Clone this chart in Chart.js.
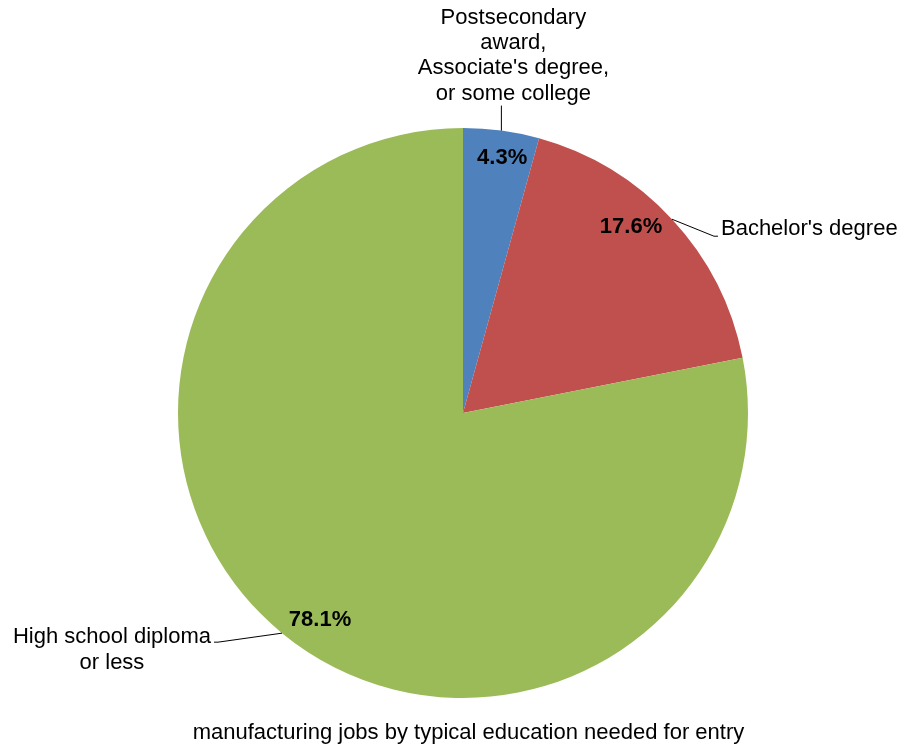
<!DOCTYPE html>
<html>
<head>
<meta charset="utf-8">
<script src="https://cdn.jsdelivr.net/npm/chart.js@4/dist/chart.umd.min.js"></script>
<style>
html,body{margin:0;padding:0;background:#fff;}
#wrap{width:901px;height:747px;position:relative;}
</style>
</head>
<body>
<div id="wrap"><canvas id="c" width="901" height="747"></canvas></div>
<script>
const categories = ["Postsecondary award, Associate's degree, or some college", "Bachelor's degree", "High school diploma or less"];
const categoryLines = [["Postsecondary", "award,", "Associate's degree,", "or some college"], ["Bachelor's degree"], ["High school diploma", "or less"]];
const values = [4.3, 17.6, 78.1];
const colors = ["#4F81BD", "#C0504D", "#9BBB59"];
const chartTitle = "manufacturing jobs by typical education needed for entry";

const FONT = "Liberation Sans, Arial, sans-serif";
const pctPlace = [{dA: 1.0, rf: 0.905}, {dA: -5.1, rf: 0.88}, {dA: -4.8, rf: 0.883}];

const labelPlugin = {
  id: 'labelPlugin',
  afterDatasetsDraw(chart) {
    const ctx = chart.ctx;
    const meta = chart.getDatasetMeta(0);
    ctx.save();
    meta.data.forEach((arc, i) => {
      const p = arc.getProps(['x','y','startAngle','endAngle','outerRadius'], true);
      const mid = (p.startAngle + p.endAngle) / 2;
      // percent label
      const a = mid + pctPlace[i].dA * Math.PI / 180;
      const r = p.outerRadius * pctPlace[i].rf;
      ctx.font = "bold 22px " + FONT;
      ctx.fillStyle = "#000";
      ctx.textAlign = "center";
      ctx.textBaseline = "middle";
      ctx.fillText(values[i].toFixed(1) + "%", p.x + Math.cos(a) * r, p.y + Math.sin(a) * r);

      // leader line and category label
      const sx = p.x + Math.cos(mid) * p.outerRadius;
      const sy = p.y + Math.sin(mid) * p.outerRadius;
      ctx.strokeStyle = "#000";
      ctx.lineWidth = 1;
      ctx.font = "22px " + FONT;
      const lines = categoryLines[i];
      const lh = 25.3;
      ctx.beginPath();
      if (i === 0) {
        ctx.moveTo(sx, sy);
        ctx.lineTo(sx, sy - 25);
        ctx.stroke();
        ctx.textAlign = "center";
        lines.forEach((t, k) => {
          ctx.fillText(t, sx + 12, sy - 37 - (lines.length - 1 - k) * lh);
        });
      } else if (i === 1) {
        ctx.moveTo(sx, sy);
        ctx.lineTo(sx + 42, sy + 17);
        ctx.lineTo(sx + 46, sy + 17);
        ctx.stroke();
        ctx.textAlign = "left";
        ctx.fillText(lines[0], sx + 49, sy + 10);
      } else {
        ctx.moveTo(sx, sy);
        ctx.lineTo(sx - 64, sy + 9);
        ctx.lineTo(sx - 68, sy + 9);
        ctx.stroke();
        const w = ctx.measureText(lines[0]).width;
        const cx = sx - 71 - w / 2;
        ctx.textAlign = "center";
        lines.forEach((t, k) => {
          ctx.fillText(t, cx, sy + 4 + k * lh);
        });
      }
    });
    // title below
    ctx.font = "22px " + FONT;
    ctx.textAlign = "center";
    ctx.textBaseline = "middle";
    ctx.fillStyle = "#000";
    ctx.fillText(chartTitle, 468.5, 733);
    ctx.restore();
  }
};

new Chart(document.getElementById('c'), {
  type: 'pie',
  data: {
    labels: categories,
    datasets: [{
      data: values,
      backgroundColor: colors,
      borderWidth: 0
    }]
  },
  options: {
    responsive: false,
    animation: false,
    layout: { padding: { top: 128, bottom: 49, left: 178, right: 153 } },
    plugins: {
      legend: { display: false },
      tooltip: { enabled: false },
      title: { display: false }
    }
  },
  plugins: [labelPlugin]
});
</script>
</body>
</html>
